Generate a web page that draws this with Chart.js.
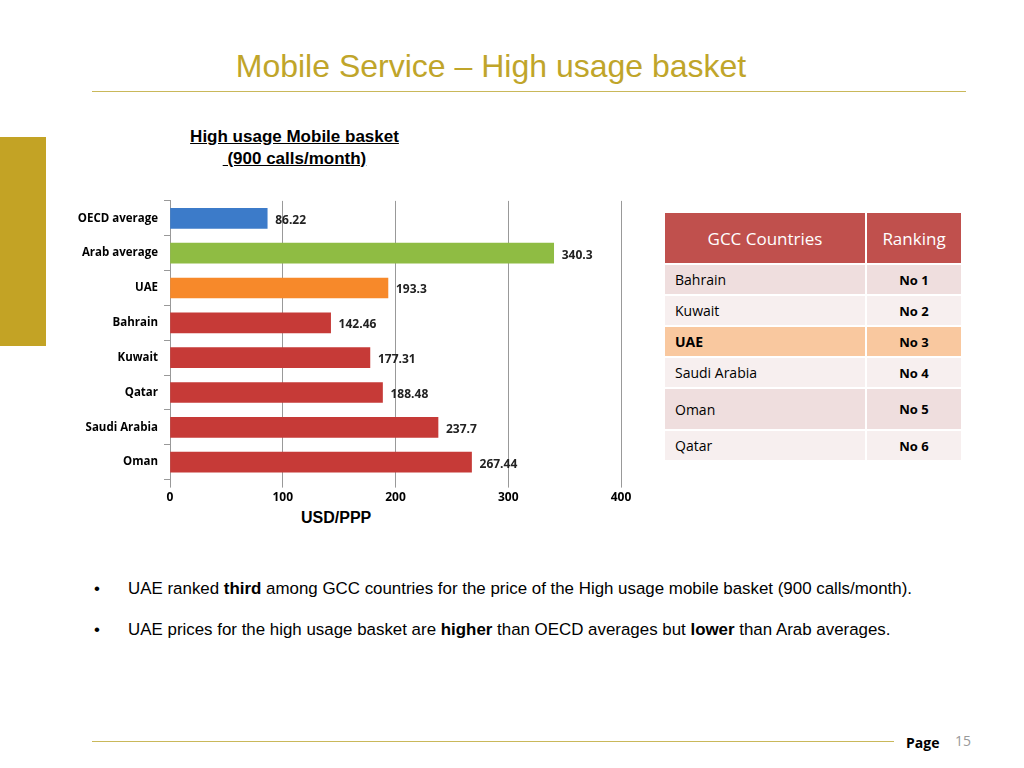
<!DOCTYPE html>
<html><head><meta charset="utf-8">
<script src="https://cdn.jsdelivr.net/npm/chart.js@4"></script>
<style>
body{margin:0;width:1024px;height:768px;background:#fff;position:relative;font-family:"Liberation Sans",Arial,sans-serif;overflow:hidden}
.abs{position:absolute}
#title{left:0;width:1050px;top:48px;text-align:center;font-size:32px;color:#c0a52a}
#hr1{left:92px;top:91px;width:874px;height:1px;background:#c9b85a}
#side{left:0;top:137px;width:46px;height:209px;background:#c3a325}
#ct{left:150px;top:126px;width:305px;text-align:center;font-size:17px;font-weight:bold;text-decoration:underline;line-height:22px}
table{border-collapse:separate;border-spacing:2px;font-family:"Open Sans",sans-serif;font-size:14px}
td{padding:0 10px}
.bul{left:94px;font-size:16.9px}
#hr2{left:92px;top:741px;width:802px;height:1px;background:#c9b85a}
</style></head><body>
<div id="title" class="abs" style="left:-34px">Mobile Service – High usage basket</div>
<div id="hr1" class="abs"></div>
<div id="side" class="abs"></div>
<div id="ct" class="abs" style="left:142px">High usage Mobile basket<br>&nbsp;(900 calls/month)</div>
<div class="abs" style="left:60px;top:188px;width:590px;height:320px"><canvas id="c"></canvas></div>
<div class="abs" style="left:301px;top:509px;font-size:16px;font-weight:bold">USD/PPP</div>
<div class="abs" style="left:663px;top:211px">
<table>
<tr style="height:50px;background:#c0504d;color:#fff;font-size:17px"><td style="width:180px;text-align:center">GCC Countries</td><td style="width:74px;text-align:center">Ranking</td></tr>
<tr style="height:29px;background:#efdede"><td>Bahrain</td><td style="text-align:center;font-weight:bold;font-size:13px">No 1</td></tr>
<tr style="height:29px;background:#f7efef"><td>Kuwait</td><td style="text-align:center;font-weight:bold;font-size:13px">No 2</td></tr>
<tr style="height:29px;background:#f9c89f"><td style="font-weight:bold">UAE</td><td style="text-align:center;font-weight:bold;font-size:13px">No 3</td></tr>
<tr style="height:29px;background:#f7efef"><td>Saudi Arabia</td><td style="text-align:center;font-weight:bold;font-size:13px">No 4</td></tr>
<tr style="height:40px;background:#efdede"><td>Oman</td><td style="text-align:center;font-weight:bold;font-size:13px">No 5</td></tr>
<tr style="height:29px;background:#f7efef"><td>Qatar</td><td style="text-align:center;font-weight:bold;font-size:13px">No 6</td></tr>
</table></div>
<div class="abs bul" style="top:579px">•&nbsp;&nbsp;&nbsp;&nbsp;&nbsp;&nbsp;UAE ranked <b>third</b> among GCC countries for the price of the High usage mobile basket (900 calls/month).</div>
<div class="abs bul" style="top:620px">•&nbsp;&nbsp;&nbsp;&nbsp;&nbsp;&nbsp;UAE prices for the high usage basket are <b>higher</b> than OECD averages but <b>lower</b> than Arab averages.</div>
<div id="hr2" class="abs"></div>
<div class="abs" style="left:906px;top:733px;font-size:14px;font-weight:bold;font-family:'Open Sans'">Page</div>
<div class="abs" style="left:955px;top:731px;font-size:14px;color:#999;font-family:'Open Sans'">15</div>
<script>
const categories=["OECD average","Arab average","UAE","Bahrain","Kuwait","Qatar","Saudi Arabia","Oman"];
const values=[86.22,340.3,193.3,142.46,177.31,188.48,237.7,267.44];
const labels=["86.22","340.3","193.3","142.46","177.31","188.48","237.7","267.44"];
const colors=["#3c7bc9","#8fbc43","#f7892a","#c63a37","#c63a37","#c63a37","#c63a37","#c63a37"];
const lbl={id:'lbl',afterDatasetsDraw(ch){const c=ch.ctx;c.save();c.font='bold 12px "Open Sans"';c.fillStyle='#222';c.textBaseline='middle';
ch.getDatasetMeta(0).data.forEach((b,i)=>{c.fillText(labels[i],b.x+8,b.y+2);});c.restore();}};
new Chart(document.getElementById('c'),{type:'bar',data:{labels:categories,datasets:[{data:values,backgroundColor:colors,barThickness:20}]},
options:{indexAxis:'y',responsive:true,maintainAspectRatio:false,animation:false,
layout:{padding:{top:8,right:29}},
plugins:{legend:{display:false},tooltip:{enabled:false}},
scales:{x:{min:0,max:400,ticks:{stepSize:100,color:'#000',font:{family:'Open Sans',size:12,weight:'bold'}},grid:{color:'#999',drawTicks:true,tickLength:8},border:{display:false}},
y:{afterFit(s){s.width=110;},ticks:{color:'#000',padding:6,font:{family:'Open Sans',size:11.5,weight:'bold'}},grid:{display:true,drawOnChartArea:false,offset:true,color:'#999',tickLength:6},border:{color:'#999'}}}},
plugins:[lbl]});
</script>
</body></html>
